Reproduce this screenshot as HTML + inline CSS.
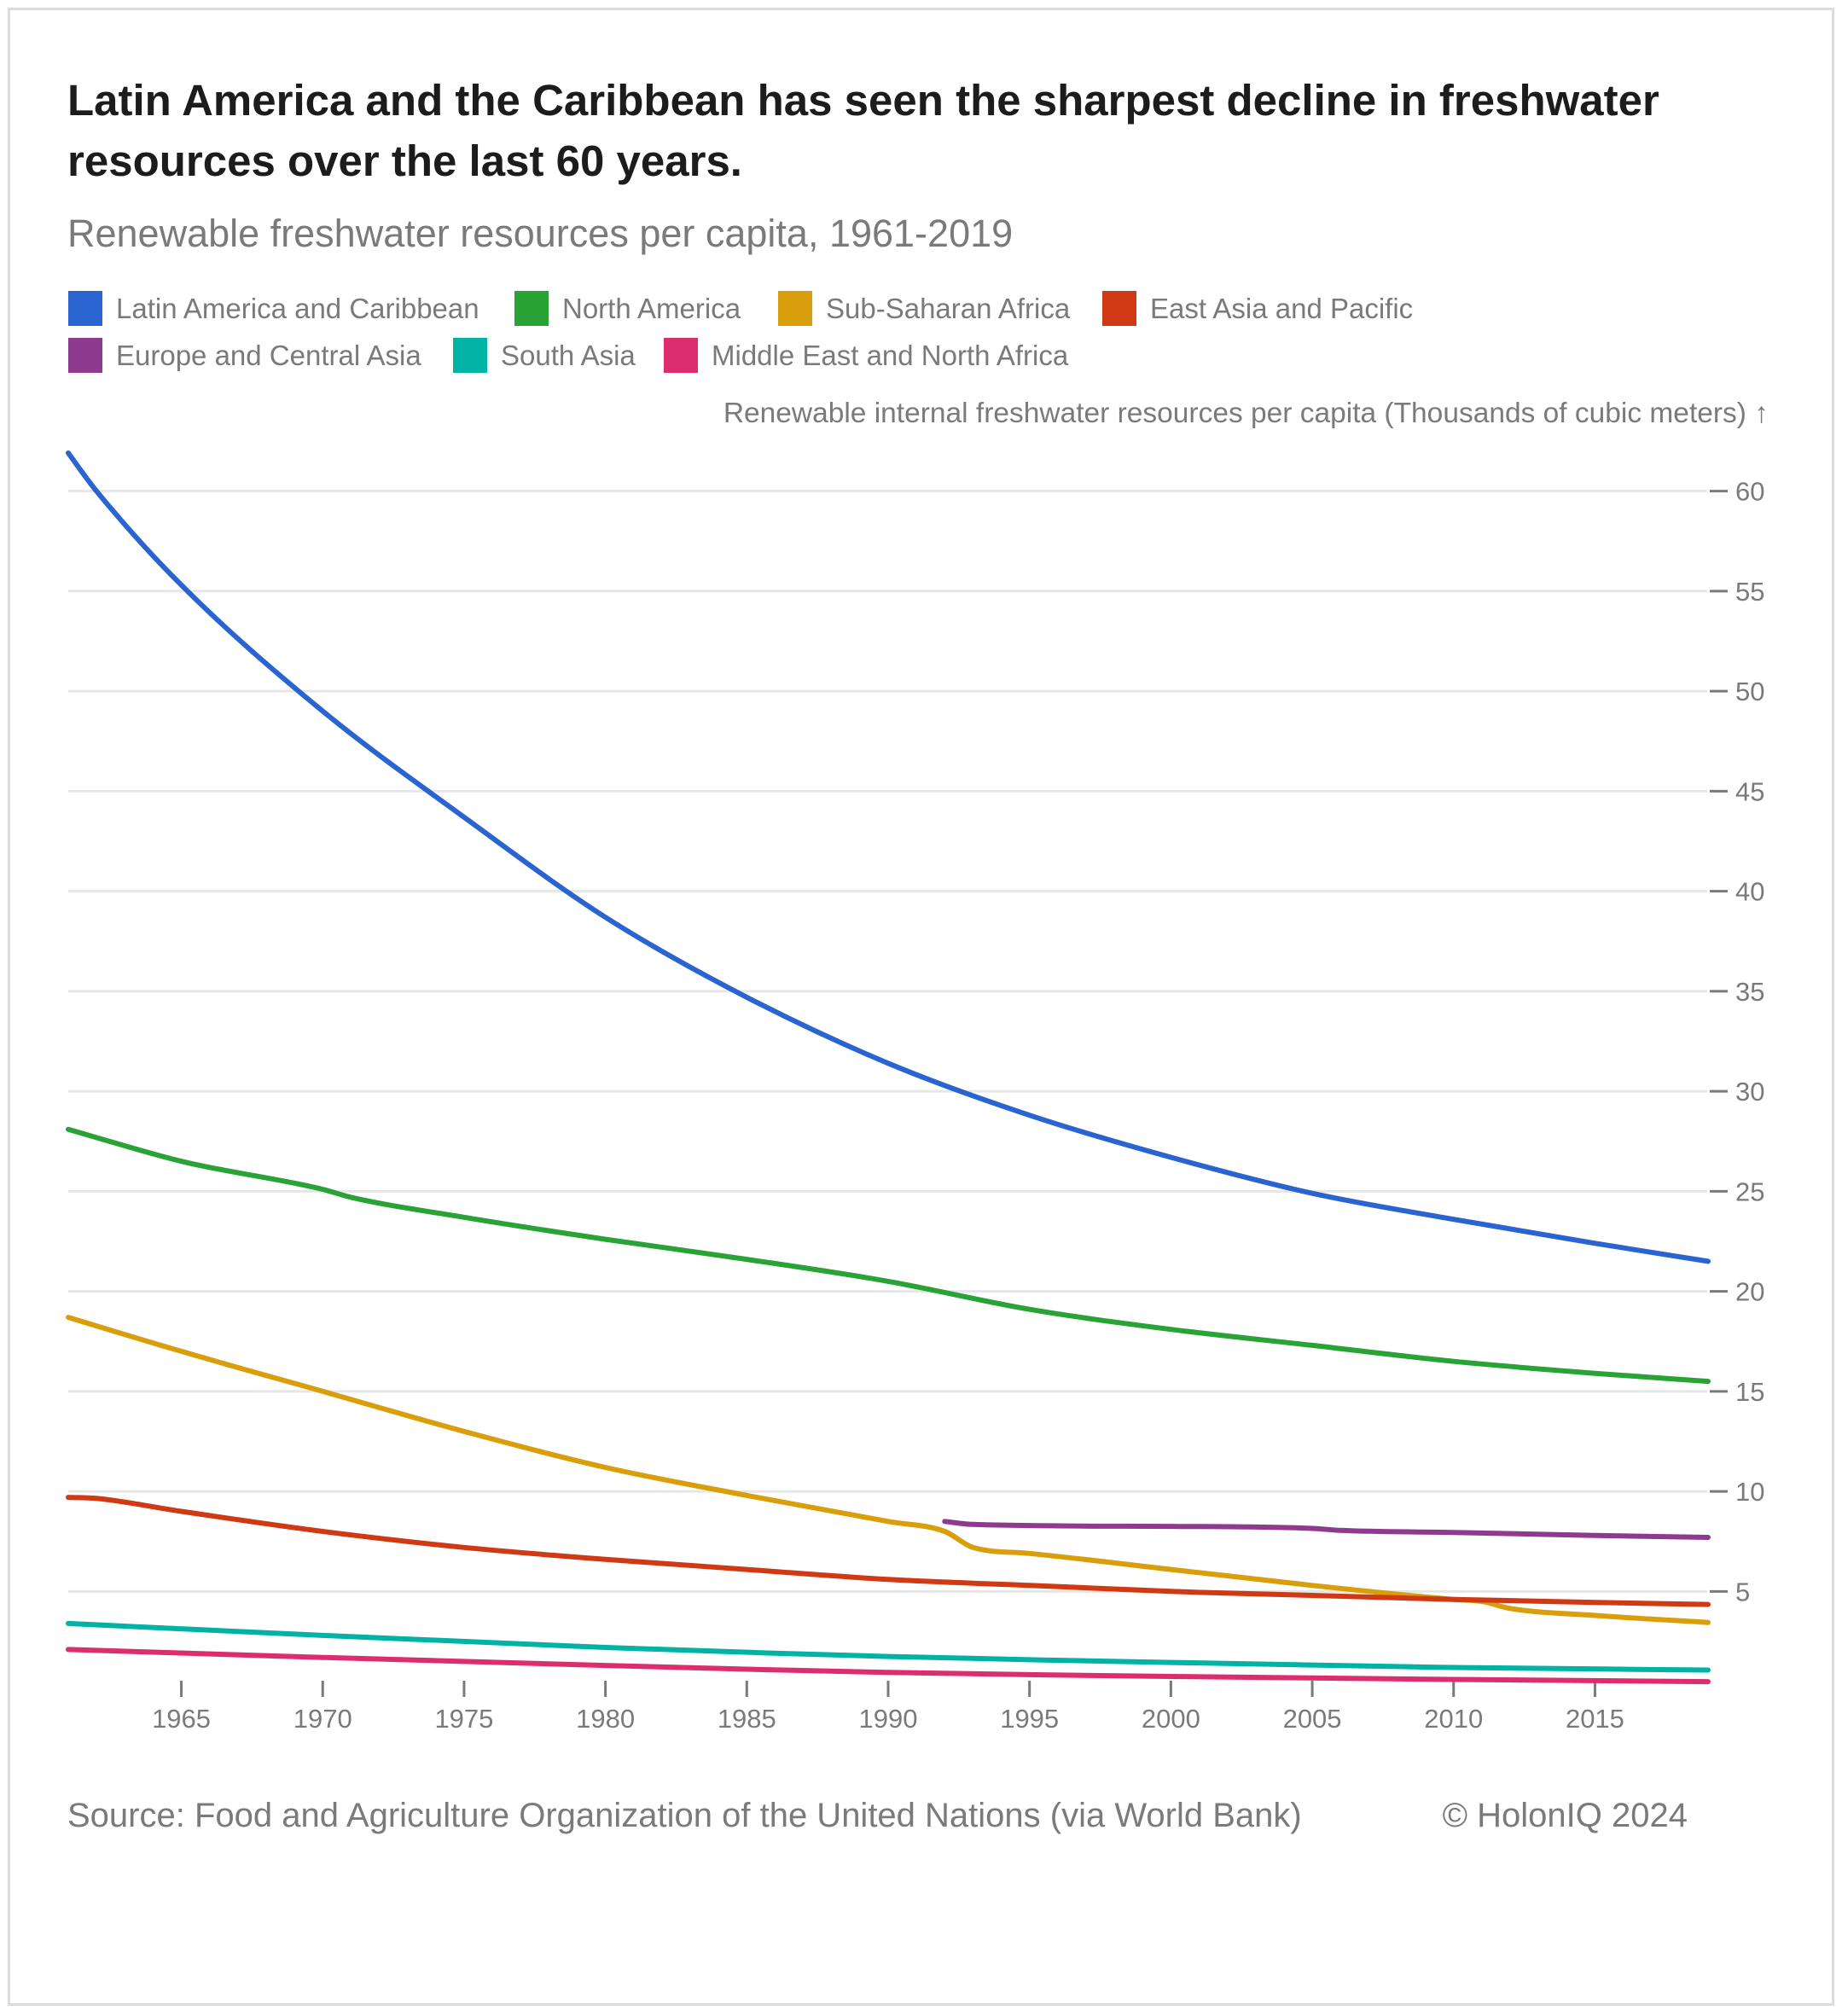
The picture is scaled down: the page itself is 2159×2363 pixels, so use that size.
<!DOCTYPE html>
<html><head><meta charset="utf-8">
<style>
html,body{margin:0;padding:0;background:#fff;}
body{width:2159px;height:2363px;position:relative;overflow:hidden;font-family:"Liberation Sans",sans-serif;}
#frame{position:absolute;left:9px;top:9px;width:2141px;height:2342px;border:3px solid #dcdcdc;box-sizing:border-box;}
.t{position:absolute;white-space:nowrap;}
</style></head>
<body>
<div id="frame"></div>
<div class="t" style="left:79px;top:82px;font-size:51px;font-weight:bold;color:#1c1c1c;line-height:71px;">Latin America and the Caribbean has seen the sharpest decline in freshwater<br>resources over the last 60 years.</div>
<div class="t" style="left:79px;top:248px;font-size:45px;color:#7a7a7a;">Renewable freshwater resources per capita, 1961-2019</div>
<svg id="chart" width="2159" height="2363" style="position:absolute;left:0;top:0"></svg>
<script>
const seriesNames=["Latin America and Caribbean","North America","Sub-Saharan Africa","East Asia and Pacific","Europe and Central Asia","South Asia","Middle East and North Africa"];
const seriesColors=["#2a64d0","#2aa336","#d99e0b","#cf3a15","#8e3a8f","#00b3a4","#dc2e6e"];
const latamYears=[1961,1962,1965,1970,1975,1980,1985,1990,1995,2000,2005,2010,2015,2019];
const latamValues=[61.9,60.0,55.3,49.0,43.7,38.7,34.7,31.4,28.8,26.7,24.9,23.6,22.4,21.5];
const naYears=[1961,1965,1970,1971,1975,1980,1985,1990,1995,2000,2005,2010,2015,2019];
const naValues=[28.1,26.5,25.1,24.7,23.7,22.6,21.6,20.5,19.1,18.1,17.3,16.5,15.9,15.5];
const ssaYears=[1961,1965,1970,1975,1980,1985,1990,1992,1993,1995,2000,2005,2010,2011,2012,2015,2019];
const ssaValues=[18.7,17.0,15.0,13.0,11.2,9.8,8.5,8.0,7.2,6.9,6.1,5.3,4.6,4.5,4.15,3.8,3.45];
const eapYears=[1961,1962,1965,1970,1975,1980,1985,1990,1995,2000,2005,2010,2015,2019];
const eapValues=[9.7,9.65,9.0,8.0,7.2,6.6,6.1,5.6,5.3,5.0,4.8,4.6,4.45,4.35];
const ecaYears=[1992,1993,2000,2005,2006,2010,2015,2019];
const ecaValues=[8.5,8.35,8.25,8.15,8.05,7.95,7.8,7.7];
const saYears=[1961,1970,1980,1990,2000,2010,2019];
const saValues=[3.4,2.8,2.2,1.75,1.45,1.2,1.07];
const menaYears=[1961,1970,1980,1990,2000,2010,2019];
const menaValues=[2.1,1.7,1.3,0.95,0.75,0.6,0.49];
const yTicks=[5,10,15,20,25,30,35,40,45,50,55,60];
const xTicks=[1965,1970,1975,1980,1985,1990,1995,2000,2005,2010,2015];

const allYears=[latamYears,naYears,ssaYears,eapYears,ecaYears,saYears,menaYears];
const allValues=[latamValues,naValues,ssaValues,eapValues,ecaValues,saValues,menaValues];
const X0=80,X1=2002,Y0=1982.6,PX=23.45;
function xs(y){return X0+(y-1961)*(X1-X0)/(2019-1961);}
function ys(v){return Y0-v*PX;}
const NS="http://www.w3.org/2000/svg";
const svg=document.getElementById('chart');
function mk(tag,attrs){const e=document.createElementNS(NS,tag);for(const k in attrs)e.setAttribute(k,attrs[k]);svg.appendChild(e);return e;}
function monoPath(px,py){
  const n=px.length;if(n<2)return '';
  const d=[],m=new Array(n);
  for(let i=0;i<n-1;i++)d.push((py[i+1]-py[i])/(px[i+1]-px[i]));
  m[0]=d[0];m[n-1]=d[n-2];
  for(let i=1;i<n-1;i++){m[i]=(d[i-1]*d[i]<=0)?0:(d[i-1]+d[i])/2;}
  for(let i=0;i<n-1;i++){
    if(d[i]===0){m[i]=0;m[i+1]=0;continue;}
    const a=m[i]/d[i],b=m[i+1]/d[i],s=a*a+b*b;
    if(s>9){const t=3/Math.sqrt(s);m[i]=t*a*d[i];m[i+1]=t*b*d[i];}
  }
  let p='M'+px[0].toFixed(1)+','+py[0].toFixed(1);
  for(let i=0;i<n-1;i++){
    const h=(px[i+1]-px[i])/3;
    p+=' C'+(px[i]+h).toFixed(1)+','+(py[i]+m[i]*h).toFixed(1)+' '+(px[i+1]-h).toFixed(1)+','+(py[i+1]-m[i+1]*h).toFixed(1)+' '+px[i+1].toFixed(1)+','+py[i+1].toFixed(1);
  }
  return p;
}

yTicks.forEach(v=>{
  const g=mk('line',{x1:X0,x2:2001,y1:ys(v),y2:ys(v),stroke:'#e6e6e6','stroke-width':3});
  
  
  const tk=mk('line',{x1:2004,x2:2025,y1:ys(v),y2:ys(v),stroke:'#7a7a7a','stroke-width':3});
  
  
  const t=mk('text',{x:2034,y:ys(v)+11,'font-size':31,fill:'#7a7a7a','font-family':'Liberation Sans, sans-serif'});
  t.textContent=v;
  
  
});
xTicks.forEach(yr=>{
  const tk=mk('line',{x1:xs(yr),x2:xs(yr),y1:1970,y2:1989,stroke:'#7a7a7a','stroke-width':3});
  
  
  const t=mk('text',{x:xs(yr),y:2025,'font-size':31,fill:'#7a7a7a','text-anchor':'middle','font-family':'Liberation Sans, sans-serif'});
  t.textContent=yr;
  
  
});
allYears.forEach((yrs,i)=>{
  const px=yrs.map(xs),py=allValues[i].map(ys);
  const p=mk('path',{d:monoPath(px,py),fill:'none',stroke:seriesColors[i],'stroke-width':6,'stroke-linejoin':'round','stroke-linecap':'round'});
  
  
});
</script>
<div class="t" style="right:86px;top:466px;font-size:33.5px;color:#7a7a7a;">Renewable internal freshwater resources per capita (Thousands of cubic meters) ↑</div>

<div>
<div class="t" style="left:80px;top:341px;font-size:33px;color:#7a7a7a;line-height:41px;"><span style="display:inline-block;width:40px;height:41px;background:#2a64d0;vertical-align:top;margin-right:16px;"></span>Latin America and Caribbean</div>
<div class="t" style="left:603px;top:341px;font-size:33px;color:#7a7a7a;line-height:41px;"><span style="display:inline-block;width:40px;height:41px;background:#2aa336;vertical-align:top;margin-right:16px;"></span>North America</div>
<div class="t" style="left:912px;top:341px;font-size:33px;color:#7a7a7a;line-height:41px;"><span style="display:inline-block;width:40px;height:41px;background:#d99e0b;vertical-align:top;margin-right:16px;"></span>Sub-Saharan Africa</div>
<div class="t" style="left:1292px;top:341px;font-size:33px;color:#7a7a7a;line-height:41px;"><span style="display:inline-block;width:40px;height:41px;background:#cf3a15;vertical-align:top;margin-right:16px;"></span>East Asia and Pacific</div>
<div class="t" style="left:80px;top:396px;font-size:33px;color:#7a7a7a;line-height:41px;"><span style="display:inline-block;width:40px;height:41px;background:#8e3a8f;vertical-align:top;margin-right:16px;"></span>Europe and Central Asia</div>
<div class="t" style="left:531px;top:396px;font-size:33px;color:#7a7a7a;line-height:41px;"><span style="display:inline-block;width:40px;height:41px;background:#00b3a4;vertical-align:top;margin-right:16px;"></span>South Asia</div>
<div class="t" style="left:778px;top:396px;font-size:33px;color:#7a7a7a;line-height:41px;"><span style="display:inline-block;width:40px;height:41px;background:#dc2e6e;vertical-align:top;margin-right:16px;"></span>Middle East and North Africa</div>
</div>

<div class="t" style="left:79px;top:2106px;font-size:40px;color:#7a7a7a;">Source: Food and Agriculture Organization of the United Nations (via World Bank)</div>
<div class="t" style="right:181px;top:2106px;font-size:40px;color:#7a7a7a;">© HolonIQ 2024</div>
</body></html>
